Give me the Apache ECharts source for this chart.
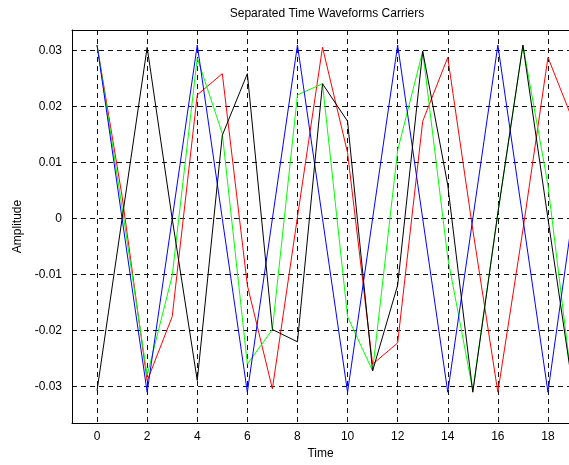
<!DOCTYPE html>
<html>
<head>
<meta charset="utf-8">
<title>Separated Time Waveforms Carriers</title>
<script src="https://cdn.jsdelivr.net/npm/echarts@6/dist/echarts.min.js"></script>
<style>
  html, body { margin: 0; padding: 0; background: #fff; }
  #chart { width: 569px; height: 465px; }
</style>
</head>
<body>
<div id="chart"></div>
<script>
// Sample instants
const time = [0, 1, 2, 3, 4, 5, 6, 7, 8, 9, 10, 11, 12, 13, 14, 15, 16, 17, 18, 19];

// Carrier waveforms, one value per sample instant
const carrierRed   = [0.031, 0.004, -0.029, -0.0175, 0.0221, 0.0259, -0.0119, -0.0304, 0.0003, 0.0306,
                      0.0118, -0.026, -0.0222, 0.0174, 0.0288, -0.002, -0.031, -0.002, 0.0288, 0.0175];
const carrierGreen = [0.031, 0.002, -0.028, -0.0102, 0.0287, 0.0152, -0.026, -0.0198, 0.0221, 0.0241,
                      -0.0175, -0.0272, 0.0122, 0.0299, -0.007, -0.0307, 0.001, 0.031, 0.006, -0.031];
const carrierBlue  = [0.031, 0, -0.031, 0, 0.031, 0, -0.031, 0, 0.031, 0,
                      -0.031, 0, 0.031, 0, -0.031, 0, 0.031, 0, -0.031, 0.001];
const carrierBlack = [-0.0307, 0, 0.0306, 0, -0.0289, 0.0149, 0.0259, -0.0198, -0.022, 0.0241,
                      0.0174, -0.0272, -0.0119, 0.0299, 0.006, -0.031, 0.001, 0.031, 0, -0.0305];

// Tick positions
const xTicks = [0, 2, 4, 6, 8, 10, 12, 14, 16, 18];
const yTicks = [-0.03, -0.02, -0.01, 0, 0.01, 0.02, 0.03];

// Visible axis window (the time axis runs off the right edge of the figure)
const xRange = [-1, 18.84];
const yRange = [-0.0365, 0.0337];

const pairs = (ys) => time.map((t, i) => [t, ys[i]]);

const FONT = '"Liberation Sans", Arial, sans-serif';
const dashed = { color: '#111', width: 1, type: [5, 4] };
const blackLine = { color: '#000', width: 1 };

const chart = echarts.init(document.getElementById('chart'), null, { renderer: 'canvas' });

const lineSeries = (name, ys, color) => ({
  name,
  type: 'line',
  data: pairs(ys),
  showSymbol: false,
  symbol: 'none',
  clip: true,
  lineStyle: { color, width: 1 },
  itemStyle: { color },
  emphasis: { disabled: true },
  animation: false
});

chart.setOption({
  animation: false,
  backgroundColor: '#fff',
  title: {
    text: 'Separated Time Waveforms Carriers',
    left: 322,
    top: 3,
    textAlign: 'center',
    textStyle: { fontFamily: FONT, fontSize: 12, fontWeight: 'normal', color: '#000' }
  },
  grid: {
    left: 72,
    top: 30,
    right: 0,
    bottom: 37,
    show: false
  },
  xAxis: [
    {
      type: 'value',
      min: xRange[0],
      max: xRange[1],
      name: 'Time',
      nameLocation: 'middle',
      nameGap: 25,
      nameTextStyle: { fontFamily: FONT, fontSize: 12, color: '#000' },
      axisLine: { show: true, onZero: false, lineStyle: blackLine },
      axisTick: { show: false, customValues: xTicks },
      axisLabel: {
        customValues: xTicks,
        margin: 8,
        fontFamily: FONT, fontSize: 12, color: '#000'
      },
      splitLine: { show: true, lineStyle: dashed }
    },
    {
      // top frame edge
      type: 'value',
      position: 'top',
      min: xRange[0],
      max: xRange[1],
      axisLine: { show: true, onZero: false, lineStyle: blackLine },
      axisTick: { show: false },
      axisLabel: { show: false },
      splitLine: { show: false }
    }
  ],
  yAxis: {
    type: 'value',
    min: yRange[0],
    max: yRange[1],
    name: 'Amplitude',
    nameLocation: 'middle',
    nameGap: 48,
    nameRotate: 90,
    nameTextStyle: { fontFamily: FONT, fontSize: 12, color: '#000' },
    axisLine: { show: true, onZero: false, lineStyle: blackLine },
    axisTick: { show: false, customValues: yTicks },
    axisLabel: {
      customValues: yTicks,
      margin: 10,
      fontFamily: FONT, fontSize: 12, color: '#000',
      formatter: (v) => (Math.abs(v) < 1e-9 ? '0' : v.toFixed(2))
    },
    splitLine: { show: true, lineStyle: dashed }
  },
  series: [
    lineSeries('carrier 1', carrierRed, '#ff0000'),
    lineSeries('carrier 2', carrierGreen, '#00ff00'),
    lineSeries('carrier 3', carrierBlue, '#0000ff'),
    lineSeries('carrier 4', carrierBlack, '#000000')
  ]
});
</script>
</body>
</html>
